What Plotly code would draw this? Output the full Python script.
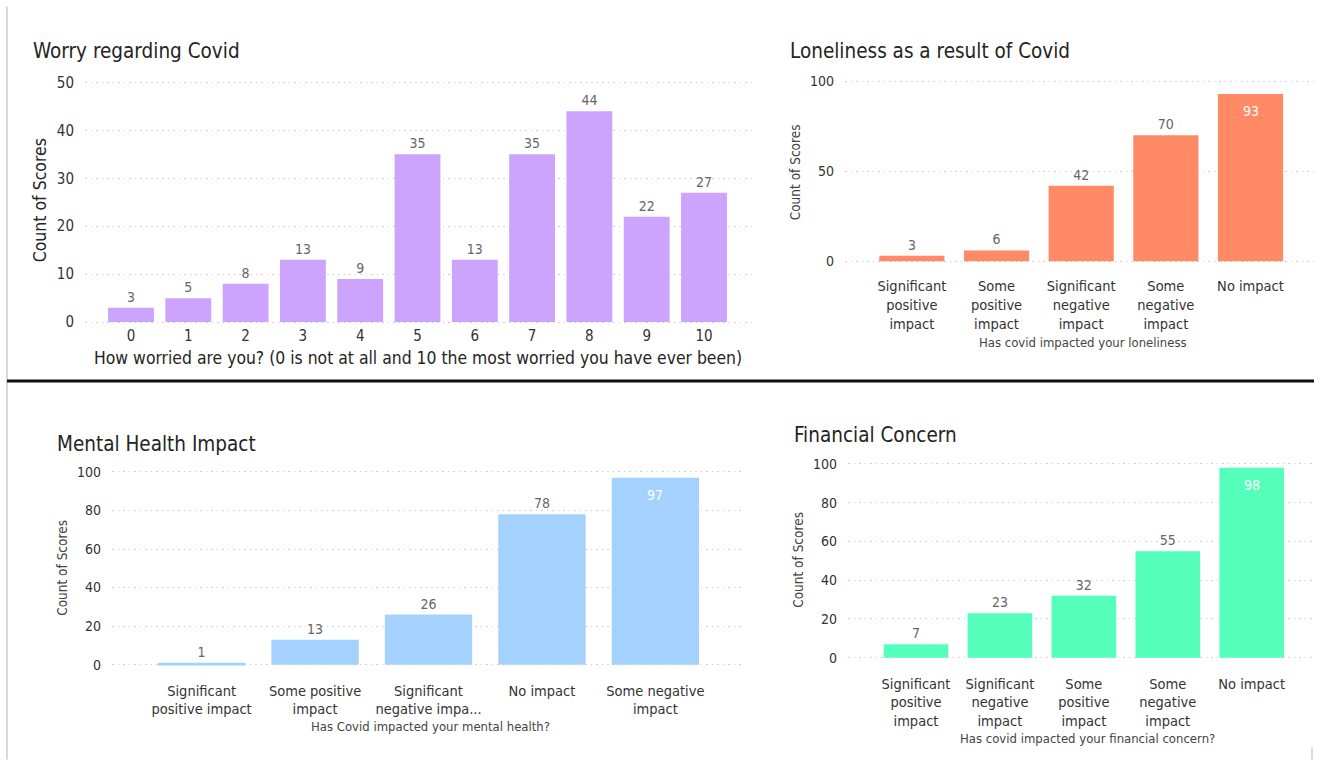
import plotly.graph_objects as go

W, H = 1320, 760

# ---- data ----
worry_scores = [0, 1, 2, 3, 4, 5, 6, 7, 8, 9, 10]
worry_counts = [3, 5, 8, 13, 9, 35, 13, 35, 44, 22, 27]

lonely_cats = ["Significant<br>positive<br>impact", "Some<br>positive<br>impact",
               "Significant<br>negative<br>impact", "Some<br>negative<br>impact", "No impact"]
lonely_counts = [3, 6, 42, 70, 93]

mental_cats = ["Significant<br>positive impact", "Some positive<br>impact",
               "Significant<br>negative impa...", "No impact", "Some negative<br>impact"]
mental_counts = [1, 13, 26, 78, 97]

finance_cats = ["Significant<br>positive<br>impact", "Significant<br>negative<br>impact",
                "Some<br>positive<br>impact", "Some<br>negative<br>impact", "No impact"]
finance_counts = [7, 23, 32, 55, 98]

FONT = "DejaVu Sans Condensed, Liberation Sans Narrow, Roboto, sans-serif"
TITLE_C = "#252423"
TICK_C = "#333333"
LABEL_C = "#666666"
GRID_C = "#CFCFCF"

# page-space vertical calibration (page top offset and scale of the rendered figure)
Y_SCALE, Y_OFF = 0.9854, 5.5


def px_x(p):
    return p / W


def fig_y(p):
    return (p - Y_OFF) / Y_SCALE


def px_y(p):
    return 1 - fig_y(p) / H


fig = go.Figure()

panels = [
    dict(x=list(range(len(worry_scores))), y=worry_counts, tt=[str(v) for v in worry_scores],
         color="#CCA3FD", xd=(85, 755), yd=(322, 82), yr=50, dt=10,
         xr=(-0.803, 10.89), inside=False, tickfs=15, lblfs=14, width=0.8, standoff=0),
    dict(x=list(range(5)), y=lonely_counts, tt=lonely_cats,
         color="#FF8A65", xd=(845, 1314), yd=(261, 81), yr=100, dt=50,
         xr=(-0.79, 4.75), inside=True, tickfs=14.5, lblfs=14, width=0.77, standoff=12),
    dict(x=list(range(5)), y=mental_counts, tt=mental_cats,
         color="#A5D1FF", xd=(112, 745), yd=(665, 472), yr=100, dt=20,
         xr=(-0.79, 4.79), inside=True, tickfs=14.5, lblfs=14, width=0.77, standoff=13),
    dict(x=list(range(5)), y=finance_counts, tt=finance_cats,
         color="#55FFBB", xd=(848, 1313), yd=(658, 464), yr=100, dt=20,
         xr=(-0.81, 4.73), inside=True, tickfs=14.5, lblfs=14, width=0.77, standoff=13),
]

PAD = 0.012  # small headroom so the top and zero gridlines are drawn inside the plot area

ann = []

for i, p in enumerate(panels, start=1):
    xa = "x" if i == 1 else f"x{i}"
    ya = "y" if i == 1 else f"y{i}"
    outside_text = [str(v) for v in p["y"]]
    if p["inside"]:
        outside_text[-1] = ""
        # value label sitting inside the top of the tallest bar
        ann.append(dict(text=str(p["y"][-1]), x=p["x"][-1], y=p["y"][-1], xref=xa, yref=ya,
                        xanchor="center", yanchor="middle", yshift=-17, showarrow=False,
                        font=dict(family=FONT, size=p["lblfs"], color="white")))
    fig.add_trace(go.Bar(
        x=p["x"], y=p["y"], xaxis=xa, yaxis=ya,
        marker=dict(color=p["color"], line=dict(width=0)),
        width=p["width"],
        text=outside_text,
        textposition="outside",
        textfont=dict(family=FONT, size=p["lblfs"], color=LABEL_C),
        cliponaxis=False,
        showlegend=False,
        hoverinfo="skip",
    ))
    y0px, ytpx = fig_y(p["yd"][0]), fig_y(p["yd"][1])
    ppu = (y0px - ytpx) / p["yr"]          # pixels per unit
    lo, hi = -p["yr"] * PAD, p["yr"] * (1 + PAD)
    dom_bottom = y0px - lo * ppu
    dom_top = y0px - hi * ppu
    xkey = "xaxis" if i == 1 else f"xaxis{i}"
    ykey = "yaxis" if i == 1 else f"yaxis{i}"
    fig.update_layout({
        xkey: dict(
            domain=[px_x(p["xd"][0]), px_x(p["xd"][1])],
            anchor=ya, range=list(p["xr"]),
            tickvals=p["x"], ticktext=p["tt"],
            showgrid=False, zeroline=False, showline=False, ticks="", ticklen=0,
            ticklabelstandoff=p["standoff"],
            tickfont=dict(family=FONT, size=p["tickfs"], color=TICK_C),
            fixedrange=True,
        ),
        ykey: dict(
            domain=[1 - dom_bottom / H, 1 - dom_top / H],
            anchor=xa, range=[lo, hi], tick0=0, dtick=p["dt"],
            showgrid=True, gridcolor=GRID_C, gridwidth=1.3, griddash="1.5px,4px",
            zeroline=False, showline=False, ticks="",
            ticklabelstandoff=10,
            tickfont=dict(family=FONT, size=p["tickfs"] if i == 1 else 14, color=TICK_C),
            fixedrange=True,
        ),
    })


# ---- text: panel titles and axis titles ----
def add_text(text, x, y, size, color, xanchor="left", angle=0):
    ann.append(dict(text=text, x=px_x(x), y=px_y(y), xref="paper", yref="paper",
                    xanchor=xanchor, yanchor="middle", showarrow=False, textangle=angle,
                    font=dict(family=FONT, size=size, color=color)))


add_text("Worry regarding Covid", 31, 51, 20.5, TITLE_C)
add_text("Loneliness as a result of Covid", 788, 51, 20.5, TITLE_C)
add_text("Mental Health Impact", 55, 444, 20.5, TITLE_C)
add_text("Financial Concern", 792, 435, 20.5, TITLE_C)

add_text("How worried are you? (0 is not at all and 10 the most worried you have ever been)",
         418, 358, 17.4, TITLE_C, xanchor="center")
add_text("Has covid impacted your loneliness", 1083, 342, 13, "#444444", xanchor="center")
add_text("Has Covid impacted your mental health?", 430, 727, 13, "#444444", xanchor="center")
add_text("Has covid impacted your financial concern?", 1087, 739, 13, "#444444", xanchor="center")

add_text("Count of Scores", 40, 200, 17.5, TITLE_C, xanchor="center", angle=-90)
add_text("Count of Scores", 795, 172, 13.5, "#444444", xanchor="center", angle=-90)
add_text("Count of Scores", 62, 568, 13.5, "#444444", xanchor="center", angle=-90)
add_text("Count of Scores", 798, 560, 13.5, "#444444", xanchor="center", angle=-90)

# ---- page frame lines ----
shapes = [
    dict(type="line", xref="paper", yref="paper", x0=px_x(7), x1=px_x(7), y0=px_y(6), y1=px_y(760),
         line=dict(color="#B8B5B2", width=1)),
    dict(type="line", xref="paper", yref="paper", x0=px_x(7), x1=px_x(1314), y0=px_y(381), y1=px_y(381),
         line=dict(color="#111111", width=3)),
    dict(type="line", xref="paper", yref="paper", x0=px_x(1312), x1=px_x(1312), y0=px_y(748), y1=px_y(760),
         line=dict(color="#B8B5B2", width=1)),
]

fig.update_layout(
    width=W, height=H,
    margin=dict(l=0, r=0, t=0, b=0),
    paper_bgcolor="white", plot_bgcolor="white",
    annotations=ann, shapes=shapes,
    bargap=0.2,
    font=dict(family=FONT),
)

fig.write_html(
    "out.html",
    config={"displayModeBar": False},
    post_script="document.body.style.margin='0';",
)
